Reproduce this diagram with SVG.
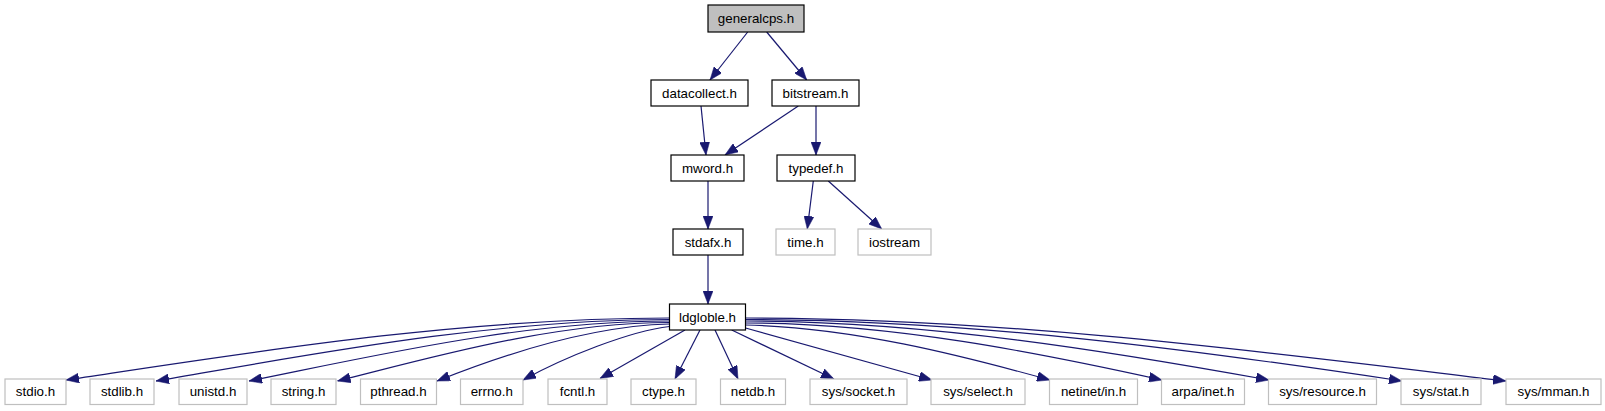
<svg xmlns="http://www.w3.org/2000/svg" width="1605" height="411" viewBox="0 0 1605 411">
<defs>
<style>
.n rect{fill:#ffffff;stroke:#000000;stroke-width:1.2}
.g rect{fill:#ffffff;stroke:#bfbfbf;stroke-width:1.2}
.root rect{fill:#bfbfbf;stroke:#000000;stroke-width:1.2}
text{font-family:"Liberation Sans",Arial,Helvetica,sans-serif;font-size:13.33px;fill:#000000;text-anchor:middle}
#edges path{fill:none;stroke:#191970;stroke-width:1.2;marker-end:url(#ah)}
</style>
<marker id="ah" viewBox="0 0 13 10" refX="13" refY="5" markerWidth="13" markerHeight="10" markerUnits="userSpaceOnUse" orient="auto">
<path d="M0,0 L13,5 L0,10 z" fill="#191970" stroke="#191970" stroke-width="0.5"/>
</marker>
</defs>
<rect x="0" y="0" width="1605" height="411" fill="#ffffff"/>
<g id="edges">
<path d="M747.7,32 L710,80"/>
<path d="M766.7,32 L806.7,80"/>
<path d="M701,106 L706,155"/>
<path d="M798.3,106 L725,155"/>
<path d="M816,106 L816,155"/>
<path d="M708,181 L708,229"/>
<path d="M813.3,181 L807.3,229"/>
<path d="M828.3,181 L881.7,229"/>
<path d="M708,255 L708,304"/>
<path d="M669.5,318 C458.3,318 245,353.2 66,380"/>
<path d="M669.5,319.5 C489.8,319.5 307.8,355.2 156,381"/>
<path d="M669.5,321 C522.3,321 372.6,356.3 249,381"/>
<path d="M669.5,322.5 C553.3,322.5 434.1,356.8 337.5,381"/>
<path d="M669.5,324 C590,326 501.8,355.1 437,381"/>
<path d="M669.5,326.5 C630,331 565,357 523,380"/>
<path d="M685,330 L600,378.5"/>
<path d="M700,330 L675,379"/>
<path d="M715,330 L738,379"/>
<path d="M731.7,330 L834,379"/>
<path d="M745.5,328 L932,380"/>
<path d="M745.5,325 C850,327 960,355 1050,380"/>
<path d="M745.5,323 C891,323 1040,353.1 1162,380"/>
<path d="M745.5,321 C928.7,321 1114.5,352.2 1269,380"/>
<path d="M745.5,319.5 C975.3,319.5 1207.2,351.8 1402,381"/>
<path d="M745.5,318 C1011.7,318 1279.6,353.9 1506,381"/>
</g>
<g id="generalcps" class="root"><rect x="708" y="5" width="96" height="27"/><text x="756" y="23">generalcps.h</text></g>
<g id="datacollect" class="n"><rect x="651" y="80" width="97" height="26"/><text x="699.5" y="97.7">datacollect.h</text></g>
<g id="bitstream" class="n"><rect x="772" y="80" width="87" height="26"/><text x="815.5" y="97.7">bitstream.h</text></g>
<g id="mword" class="n"><rect x="671" y="155" width="73" height="26"/><text x="707.5" y="172.7">mword.h</text></g>
<g id="typedef" class="n"><rect x="777" y="155" width="78" height="26"/><text x="816" y="172.7">typedef.h</text></g>
<g id="stdafx" class="n"><rect x="673" y="229" width="70" height="26"/><text x="708" y="246.7">stdafx.h</text></g>
<g id="time" class="g"><rect x="776" y="229" width="59" height="26"/><text x="805.5" y="246.7">time.h</text></g>
<g id="iostream" class="g"><rect x="858" y="229" width="73" height="26"/><text x="894.5" y="246.7">iostream</text></g>
<g id="ldgloble" class="n"><rect x="669.5" y="304" width="76" height="26"/><text x="707.5" y="321.7">ldgloble.h</text></g>
<g id="stdio" class="g"><rect x="5" y="379" width="61" height="25.5"/><text x="35.5" y="396.4">stdio.h</text></g>
<g id="stdlib" class="g"><rect x="90" y="379" width="64" height="25.5"/><text x="122" y="396.4">stdlib.h</text></g>
<g id="unistd" class="g"><rect x="179" y="379" width="68" height="25.5"/><text x="213" y="396.4">unistd.h</text></g>
<g id="string" class="g"><rect x="271" y="379" width="65" height="25.5"/><text x="303.5" y="396.4">string.h</text></g>
<g id="pthread" class="g"><rect x="360.5" y="379" width="76" height="25.5"/><text x="398.5" y="396.4">pthread.h</text></g>
<g id="errno" class="g"><rect x="460.5" y="379" width="62.5" height="25.5"/><text x="491.75" y="396.4">errno.h</text></g>
<g id="fcntl" class="g"><rect x="548" y="379" width="59" height="25.5"/><text x="577.5" y="396.4">fcntl.h</text></g>
<g id="ctype" class="g"><rect x="631" y="379" width="65" height="25.5"/><text x="663.5" y="396.4">ctype.h</text></g>
<g id="netdb" class="g"><rect x="720.5" y="379" width="65" height="25.5"/><text x="753" y="396.4">netdb.h</text></g>
<g id="socket" class="g"><rect x="810" y="379" width="97" height="25.5"/><text x="858.5" y="396.4">sys/socket.h</text></g>
<g id="select" class="g"><rect x="931" y="379" width="94" height="25.5"/><text x="978" y="396.4">sys/select.h</text></g>
<g id="netinet" class="g"><rect x="1049.5" y="379" width="88" height="25.5"/><text x="1093.5" y="396.4">netinet/in.h</text></g>
<g id="arpa" class="g"><rect x="1161.5" y="379" width="83" height="25.5"/><text x="1203" y="396.4">arpa/inet.h</text></g>
<g id="resource" class="g"><rect x="1268.5" y="379" width="108" height="25.5"/><text x="1322.5" y="396.4">sys/resource.h</text></g>
<g id="stat" class="g"><rect x="1401" y="379" width="80" height="25.5"/><text x="1441" y="396.4">sys/stat.h</text></g>
<g id="mman" class="g"><rect x="1506" y="379" width="95" height="25.5"/><text x="1553.5" y="396.4">sys/mman.h</text></g>
</svg>
